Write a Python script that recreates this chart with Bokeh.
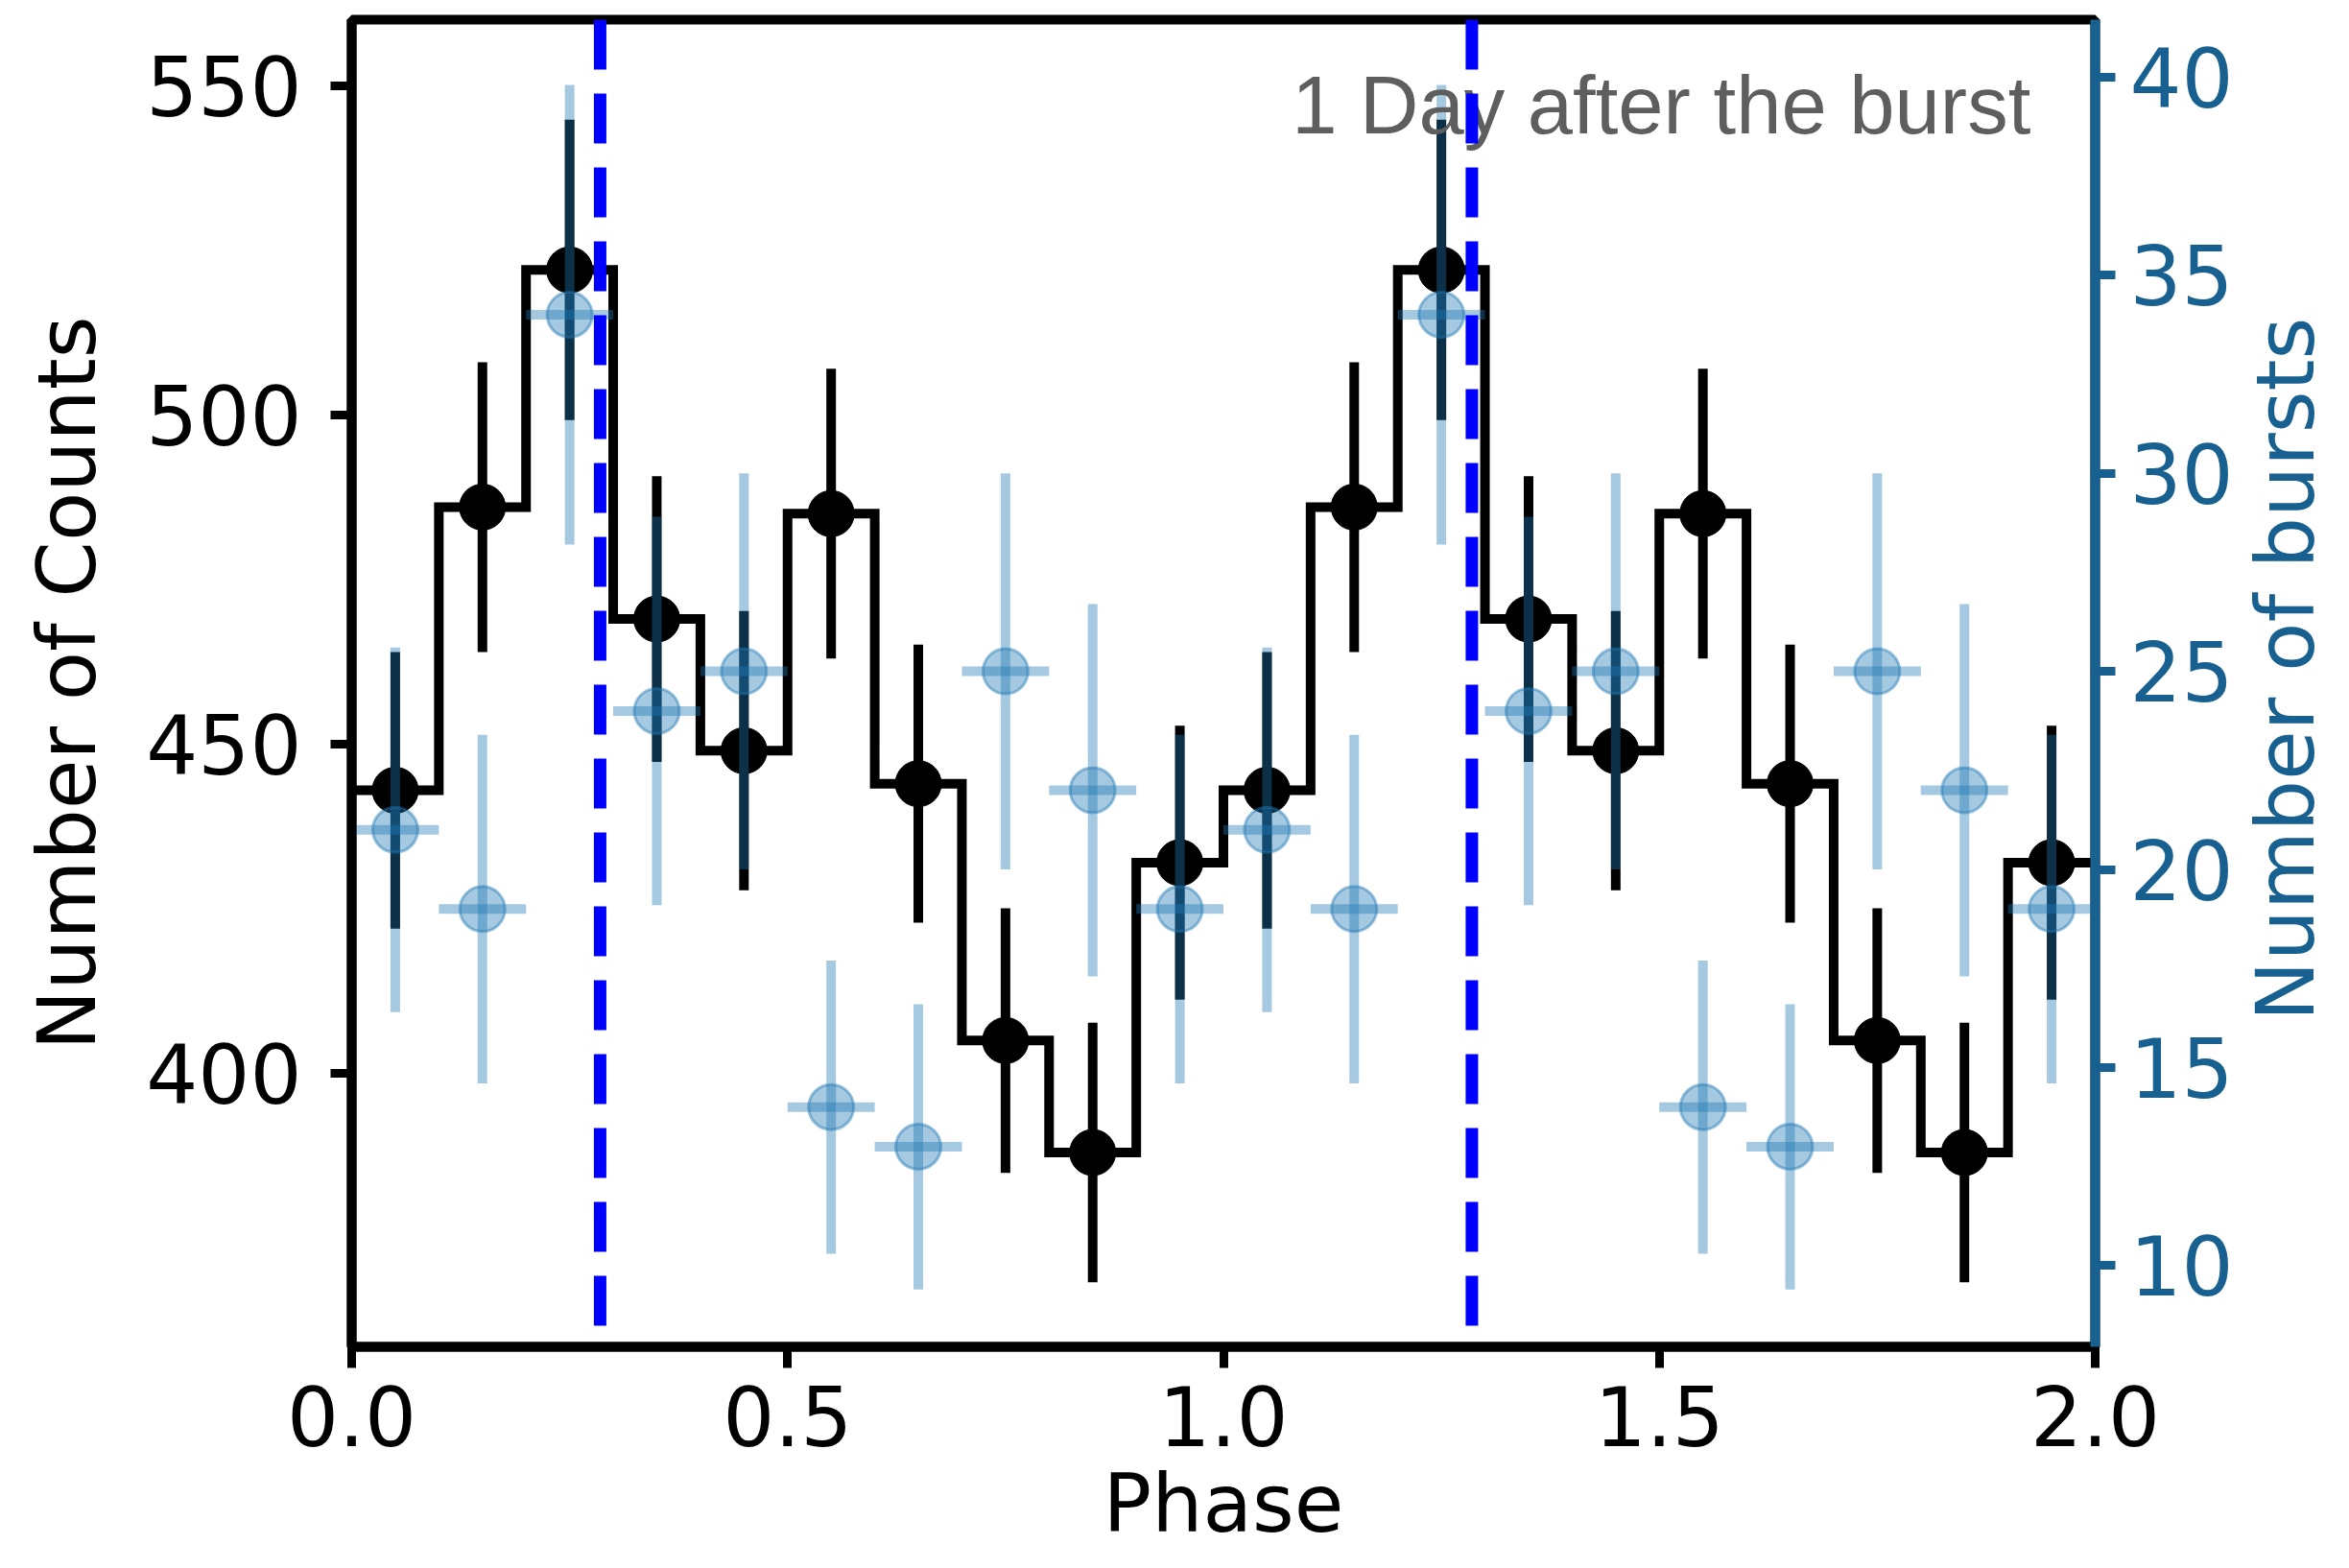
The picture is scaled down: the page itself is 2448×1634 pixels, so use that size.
import math
from bokeh.plotting import figure
from bokeh.layouts import row
from bokeh.models import (Range1d, LinearAxis, FixedTicker, PrintfTickFormatter,
                          Span, Label, ColumnDataSource)
from bokeh.embed import file_html
from bokeh.resources import INLINE

# ---------------- data ----------------
phase = [0.05, 0.15, 0.25, 0.35, 0.45, 0.55, 0.65, 0.75, 0.85, 0.95,
         1.05, 1.15, 1.25, 1.35, 1.45, 1.55, 1.65, 1.75, 1.85, 1.95]
phase_half_bin = [0.05] * 20
counts = [443, 486, 522, 469, 449, 485, 444, 405, 388, 432,
          443, 486, 522, 469, 449, 485, 444, 405, 388, 432]
count_err = [21.0, 22.0, 22.8, 21.7, 21.2, 22.0, 21.1, 20.1, 19.7, 20.8,
             21.0, 22.0, 22.8, 21.7, 21.2, 22.0, 21.1, 20.1, 19.7, 20.8]
bursts = [21, 19, 34, 24, 25, 14, 13, 25, 22, 19,
          21, 19, 34, 24, 25, 14, 13, 25, 22, 19]
burst_err = [4.6, 4.4, 5.8, 4.9, 5.0, 3.7, 3.6, 5.0, 4.7, 4.4,
             4.6, 4.4, 5.8, 4.9, 5.0, 3.7, 3.6, 5.0, 4.7, 4.4]
burst_phase = [0.285, 1.285]
x_ticks = [0.0, 0.5, 1.0, 1.5, 2.0]
count_ticks = [400, 450, 500, 550]
burst_ticks = [10, 15, 20, 25, 30, 35, 40]
annotation_text = "1 Day after the burst"
x_label = "Phase"
y_label = "Number of Counts"
y2_label = "Number of bursts"

# ---------------- styles ----------------
BLUE = "#1f77b4"
AXBLUE = "#17608f"
FONT = "DejaVu Sans"
X_RANGE = (0, 2)
Y_RANGE = (358.5, 560)
Y2_RANGE = (7.95, 41.45)
MAIN_W, SIDE_W, H = 2330, 102, 1618

# step outline built from bin centres and half widths
step_x, step_y = [], []
for x, hw, c in zip(phase, phase_half_bin, counts):
    step_x += [x - hw, x + hw]
    step_y += [c, c]

src = ColumnDataSource(dict(
    phase=phase, counts=counts,
    c_lo=[c - e for c, e in zip(counts, count_err)],
    c_hi=[c + e for c, e in zip(counts, count_err)],
    bursts=bursts,
    b_lo=[b - e for b, e in zip(bursts, burst_err)],
    b_hi=[b + e for b, e in zip(bursts, burst_err)],
    x_lo=[x - h for x, h in zip(phase, phase_half_bin)],
    x_hi=[x + h for x, h in zip(phase, phase_half_bin)],
))

p = figure(width=MAIN_W, height=H,
           x_range=Range1d(*X_RANGE), y_range=Range1d(*Y_RANGE),
           output_backend="svg", toolbar_location=None,
           min_border_left=366, min_border_top=20,
           min_border_right=144, min_border_bottom=10)
p.background_fill_color = "white"
p.border_fill_color = "white"
p.xgrid.visible = False
p.ygrid.visible = False
p.outline_line_color = "black"
p.outline_line_width = 10
p.outline_line_alpha = 1.0

p.extra_y_ranges = {"bursts": Range1d(*Y2_RANGE)}

# annotation text (under the data)
p.add_layout(Label(x=1.926, y=547, text=annotation_text,
                   text_font="Liberation Sans", text_font_size="85px",
                   text_color="#5e5e5e", text_align="right",
                   text_baseline="alphabetic"))

# black step histogram + error bars + markers
p.line(step_x, step_y, line_color="black", line_width=10, line_join="miter")
p.segment(x0="phase", y0="c_lo", x1="phase", y1="c_hi", source=src,
          line_color="black", line_width=10)
p.scatter(x="phase", y="counts", source=src, size=48, marker="circle",
          fill_color="black", line_color="black")

# blue burst points on right axis
p.segment(x0="phase", y0="b_lo", x1="phase", y1="b_hi", source=src,
          y_range_name="bursts", line_color=BLUE, line_alpha=0.4, line_width=10)
p.segment(x0="x_lo", y0="bursts", x1="x_hi", y1="bursts", source=src,
          y_range_name="bursts", line_color=BLUE, line_alpha=0.4, line_width=10)
p.scatter(x="phase", y="bursts", source=src, y_range_name="bursts",
          size=47, marker="circle", fill_color=BLUE, fill_alpha=0.4,
          line_color=BLUE, line_alpha=0.45, line_width=3)

# vertical dashed lines
for bp in burst_phase:
    p.add_layout(Span(location=bp, dimension="height", line_color="#0000ff",
                      line_width=13, line_dash="52 25"))

# ---------------- axes ----------------
def style_axis(ax, color):
    ax.axis_line_color = color
    ax.axis_line_width = 10
    ax.major_tick_line_color = color
    ax.major_tick_line_width = 9
    ax.major_tick_in = 0
    ax.minor_tick_line_color = None
    ax.major_label_text_font = FONT
    ax.major_label_text_font_size = "85px"
    ax.major_label_text_color = color
    ax.axis_label_text_font = FONT
    ax.axis_label_text_font_size = "84px"
    ax.axis_label_text_font_style = "normal"
    ax.axis_label_text_color = color

xa = p.xaxis[0]
style_axis(xa, "black")
xa.ticker = FixedTicker(ticks=x_ticks)
xa.formatter = PrintfTickFormatter(format="%.1f")
xa.major_tick_out = 22
xa.major_label_standoff = 18
xa.axis_label = x_label
xa.axis_label_standoff = 8

ya = p.yaxis[0]
style_axis(ya, "black")
ya.ticker = FixedTicker(ticks=count_ticks)
ya.formatter = PrintfTickFormatter(format="%d")
ya.major_tick_out = 22
ya.major_label_standoff = 30
ya.axis_label = y_label
ya.axis_label_standoff = 30

ya2 = LinearAxis(y_range_name="bursts")
style_axis(ya2, AXBLUE)
ya2.ticker = FixedTicker(ticks=burst_ticks)
ya2.formatter = PrintfTickFormatter(format="%d")
ya2.major_tick_out = 21
ya2.major_label_standoff = 15
p.add_layout(ya2, "right")

# narrow side panel carrying the right-hand axis title, reading bottom-to-top
side = figure(width=SIDE_W, height=H, x_range=Range1d(0, SIDE_W),
              y_range=Range1d(H, 0), output_backend="svg",
              toolbar_location=None, min_border=0)
side.axis.visible = False
side.xgrid.visible = False
side.ygrid.visible = False
side.outline_line_color = None
side.background_fill_color = "white"
side.border_fill_color = "white"
side.add_layout(Label(x=SIDE_W / 2, y=792, angle=math.pi / 2, text=y2_label,
                      text_align="center", text_baseline="middle",
                      text_font=FONT, text_font_size="84px",
                      text_color=AXBLUE))

layout = row(p, side, spacing=0)
open("out.html", "w").write(file_html(layout, INLINE))
